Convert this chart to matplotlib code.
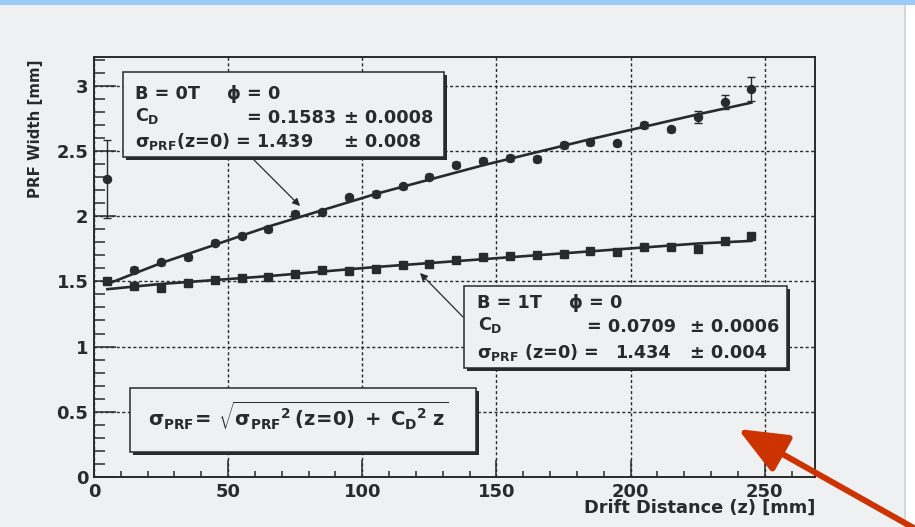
import numpy as np
import matplotlib.pyplot as plt
from matplotlib.patches import Rectangle, FancyArrowPatch

# ---- data ----
drift_mm = [5, 15, 25, 35, 45, 55, 65, 75, 85, 95, 105, 115, 125,
            135, 145, 155, 165, 175, 185, 195, 205, 215, 225, 235, 245]

width_0T = [2.285, 1.589, 1.645, 1.683, 1.796, 1.850, 1.901, 2.016, 2.028,
            2.144, 2.170, 2.228, 2.302, 2.394, 2.425, 2.446, 2.438, 2.546,
            2.566, 2.558, 2.699, 2.665, 2.758, 2.873, 2.975]
err_0T = [0.30, 0.02, 0.02, 0.02, 0.02, 0.02, 0.02, 0.02, 0.02, 0.02, 0.02,
          0.02, 0.02, 0.02, 0.02, 0.02, 0.02, 0.02, 0.02, 0.02, 0.02, 0.02,
          0.045, 0.055, 0.095]

width_1T = [1.499, 1.461, 1.448, 1.486, 1.509, 1.522, 1.530, 1.555, 1.589,
            1.581, 1.594, 1.624, 1.632, 1.663, 1.684, 1.696, 1.701, 1.709,
            1.729, 1.722, 1.760, 1.760, 1.747, 1.806, 1.850]

# fitted curves
fit_z = [5, 25, 65, 105, 145, 185, 225, 245]
fit_0T = [1.48, 1.64, 1.92, 2.17, 2.39, 2.59, 2.78, 2.87]
fit_1T = [1.44, 1.48, 1.54, 1.61, 1.67, 1.73, 1.79, 1.81]

x_ticks = [0, 50, 100, 150, 200, 250]
y_ticks = [0, 0.5, 1, 1.5, 2, 2.5, 3]
y_tick_labels = ['0', '0.5', '1', '1.5', '2', '2.5', '3']

# ---- style ----
BG = '#eff0f2'
INK = '#2a2a2a'
W, H = 915, 527

plt.rcParams['font.family'] = ['DejaVu Sans']
plt.rcParams['font.weight'] = 'bold'
plt.rcParams['mathtext.fontset'] = 'custom'
plt.rcParams['mathtext.rm'] = 'DejaVu Sans:bold'
plt.rcParams['mathtext.it'] = 'DejaVu Sans:bold'
plt.rcParams['mathtext.bf'] = 'DejaVu Sans:bold'
plt.rcParams['mathtext.sf'] = 'DejaVu Sans:bold'


def fx(x):
    return x / W


def fy(y):
    return 1 - y / H


fig = plt.figure(figsize=(W / 100, H / 100), dpi=100, facecolor=BG)
ax = fig.add_axes([fx(94), fy(477), (815 - 94) / W, (477 - 57) / H])
ax.set_facecolor(BG)

# window decorations
fig.add_artist(Rectangle((0, fy(5)), 1, 5 / H, transform=fig.transFigure,
                         facecolor='#9bc9f8', edgecolor='none', zorder=0))
fig.add_artist(Rectangle((fx(904), 0), 2 / W, fy(5), transform=fig.transFigure,
                         facecolor='#d6d7d9', edgecolor='none', zorder=0))
fig.add_artist(Rectangle((fx(906), 0), 9 / W, fy(5), transform=fig.transFigure,
                         facecolor='white', edgecolor='none', zorder=0))

# data
ax.plot(fit_z, fit_0T, color=INK, lw=1.9, zorder=3)
ax.plot(fit_z, fit_1T, color=INK, lw=1.9, zorder=3)
ax.errorbar(drift_mm, width_0T, yerr=err_0T, fmt='o', color=INK, ms=5.8,
            capsize=3, elinewidth=1, capthick=1, zorder=4)
ax.plot(drift_mm, width_1T, 's', color=INK, ms=6.2, zorder=4)

ax.set_xlim(0, 268.7)
ax.set_ylim(0, 3.22)
ax.set_xticks(x_ticks)
ax.set_xticks(np.arange(0, 269, 10), minor=True)
ax.set_yticks(y_ticks)
ax.set_yticklabels(y_tick_labels)
ax.set_yticks(np.arange(0, 3.21, 0.1), minor=True)
ax.tick_params(axis='both', which='both', direction='in', colors=INK,
               labelsize=13, width=1.1)
ax.tick_params(axis='y', which='major', length=15.5, pad=4)
ax.tick_params(axis='y', which='minor', length=8)
ax.tick_params(axis='x', which='major', length=12, pad=4)
ax.tick_params(axis='x', which='minor', length=4.5)
for s in ax.spines.values():
    s.set_color(INK)
    s.set_linewidth(1.4)
ax.grid(True, which='major', color=INK, lw=1, linestyle=(0, (2.2, 1.8)))
ax.set_axisbelow(True)

fig.text(fx(815), fy(508), 'Drift Distance (z) [mm]', ha='right', va='center',
         fontsize=12.8, fontweight='bold', color=INK)
fig.text(fx(36), fy(60), 'PRF Width [mm]', rotation=90, ha='center', va='top',
         fontsize=10.8, fontweight='bold', color=INK)


def box(left, top, right, bottom):
    fig.add_artist(Rectangle((fx(left + 3), fy(bottom + 3)), (right - left) / W,
                             (bottom - top) / H, transform=fig.transFigure,
                             facecolor=INK, edgecolor='none', zorder=5))
    fig.add_artist(Rectangle((fx(left), fy(bottom)), (right - left) / W,
                             (bottom - top) / H, transform=fig.transFigure,
                             facecolor=BG, edgecolor=INK, lw=1.1, zorder=6))


def label(x, y, s, size=12.7):
    fig.text(fx(x), fy(y), s, ha='left', va='baseline', fontsize=size,
             fontweight='bold', color=INK, zorder=7)


def pointer(tail, tip):
    fig.add_artist(FancyArrowPatch((fx(tail[0]), fy(tail[1])), (fx(tip[0]), fy(tip[1])),
                                   transform=fig.transFigure, arrowstyle='-|>',
                                   mutation_scale=11, lw=0.9, color=INK, zorder=4,
                                   shrinkA=0, shrinkB=0))


# B = 0T box
box(123, 72, 444, 157)
label(135, 99, 'B = 0T')
label(226, 99, r'$\phi$ = 0')
label(135, 121, r'$C_D$')
label(247, 123, '= 0.1583')
label(344, 123, '\u00b1 0.0008')
label(135, 147, r'$\sigma_{PRF}$(z=0) = 1.439')
label(344, 147, '\u00b1 0.008')
pointer((253, 159), (300, 206))

# B = 1T box
box(464, 286, 787, 368)
label(477, 308, 'B = 1T')
label(568, 308, r'$\phi$ = 0')
label(478, 330, r'$C_D$')
label(587, 332, '= 0.0709')
label(690, 332, '\u00b1 0.0006')
label(477, 358, r'$\sigma_{PRF}$ (z=0) =')
label(615, 358, '1.434')
label(690, 358, '\u00b1 0.004')
pointer((463, 317), (420, 273))

# formula box
box(130, 388, 476, 452)
label(148, 427, r'$\sigma_{PRF}\!=\,\sqrt{\sigma_{PRF}{}^{2}\,(z\!=\!0)\;+\;C_{D}{}^{2}\;z}$',
      size=14)

# red annotation arrow
fig.add_artist(FancyArrowPatch((fx(935), fy(540)), (fx(738), fy(429)),
                               transform=fig.transFigure,
                               arrowstyle='-|>,head_length=1.0,head_width=0.42',
                               mutation_scale=30, lw=4.3, color='#cc3300',
                               zorder=8, shrinkA=0, shrinkB=0))

fig.savefig('out.png', dpi=100, facecolor=BG)
